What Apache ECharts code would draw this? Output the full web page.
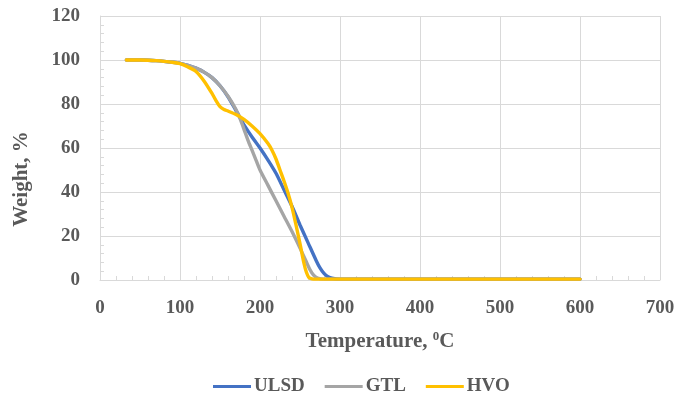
<!DOCTYPE html>
<html>
<head>
<meta charset="utf-8">
<script src="https://cdn.jsdelivr.net/npm/echarts@6/dist/echarts.min.js"></script>
<style>
  html, body { margin: 0; padding: 0; background: #fff; }
  #chart { width: 692px; height: 396px; }
</style>
</head>
<body>
<div id="chart"></div>
<script>
// Thermogravimetric curves: sample weight (%) against temperature (°C)
const ulsdTemp   = [33, 50, 60, 70, 80, 90, 100, 110, 120, 130, 140, 150, 160, 170, 175, 180, 190, 200, 210, 220, 230, 240, 250, 260, 270, 275, 280, 285, 290, 300, 400, 500, 600];
const ulsdWeight = [100, 100, 99.9, 99.7, 99.4, 99, 98.5, 97.6, 96.3, 94.5, 92, 88.3, 83.3, 77, 73.8, 70.5, 65, 60, 54.5, 48.5, 41, 33.5, 25, 17, 9, 5.5, 3, 1.5, 0.8, 0.4, 0.4, 0.4, 0.4];

const gtlTemp   = [33, 50, 60, 70, 80, 90, 100, 110, 120, 130, 140, 150, 160, 170, 175, 180, 185, 190, 195, 200, 210, 220, 230, 240, 250, 257, 262, 267, 272, 280, 300, 400, 500, 600];
const gtlWeight = [100, 100, 99.9, 99.7, 99.4, 99, 98.5, 97.6, 96.3, 94.5, 92, 88.3, 83.5, 77.5, 73.5, 68.5, 63.5, 59, 54.5, 50, 43, 36, 29, 22, 14.5, 9, 5, 2.2, 0.9, 0.4, 0.4, 0.4, 0.4, 0.4];

const hvoTemp   = [33, 50, 60, 70, 80, 90, 100, 110, 120, 130, 140, 145, 150, 155, 160, 170, 180, 190, 200, 210, 215, 220, 225, 230, 235, 240, 245, 250, 255, 258, 261, 265, 270, 300, 400, 500, 600];
const hvoWeight = [100, 100, 99.9, 99.7, 99.4, 99, 98.3, 96.8, 94.8, 90.5, 84.8, 81.5, 78.8, 77.5, 76.8, 75.2, 73, 70, 66.5, 62, 59, 55, 50, 45, 39.5, 33, 25, 16.5, 7.5, 3.5, 1.2, 0.5, 0.4, 0.4, 0.4, 0.4, 0.4];

const xTicks = [0, 100, 200, 300, 400, 500, 600, 700];
const yTicks = [0, 20, 40, 60, 80, 100, 120];

const pairs = (xs, ys) => xs.map((x, i) => [x, ys[i]]);

const FONT = '"Liberation Serif", "Times New Roman", serif';
const TXT = '#595959';
const GRID = '#D9D9D9';

const axisCommon = {
  axisLine: { show: true, lineStyle: { color: GRID, width: 1 } },
  axisTick: { show: true, inside: true, length: 4, lineStyle: { color: GRID } },
  minorTick: { show: true, splitNumber: 5, length: 4, lineStyle: { color: GRID } },
  splitLine: { show: true, lineStyle: { color: GRID, width: 1 } },
  axisLabel: { color: TXT, fontFamily: FONT, fontWeight: 'bold', fontSize: 19 }
};

function lineSeries(name, data, color) {
  return {
    name, type: 'line', data,
    smooth: 0.25,
    showSymbol: false,
    symbol: 'none',
    lineStyle: { color, width: 3.4, cap: 'round' },
    itemStyle: { color },
    emphasis: { disabled: true },
    animation: false
  };
}

const chart = echarts.init(document.getElementById('chart'), null, { renderer: 'canvas' });
chart.setOption({
  backgroundColor: '#fff',
  animation: false,
  grid: { left: 100, right: 32, top: 16, bottom: 116, containLabel: false },
  xAxis: Object.assign({}, axisCommon, {
    type: 'value', min: xTicks[0], max: xTicks[xTicks.length - 1], interval: 100,
    axisLabel: Object.assign({}, axisCommon.axisLabel, { margin: 19 })
  }),
  yAxis: Object.assign({}, axisCommon, {
    type: 'value', min: yTicks[0], max: yTicks[yTicks.length - 1], interval: 20,
    axisLabel: Object.assign({}, axisCommon.axisLabel, { margin: 20 })
  }),
  legend: {
    top: 372, left: 208,
    itemWidth: 38, itemHeight: 3, itemGap: 20,
    icon: 'rect',
    textStyle: { color: TXT, fontFamily: FONT, fontWeight: 'bold', fontSize: 19, padding: [0, 0, 0, -2] },
    data: ['ULSD', 'GTL', 'HVO']
  },
  graphic: [
    {
      type: 'text', x: 22, y: 179, rotation: Math.PI / 2,
      style: { text: 'Weight, %', fill: TXT, font: 'bold 21px ' + FONT, align: 'center', verticalAlign: 'middle' }
    },
    {
      type: 'text', x: 380, y: 342,
      style: {
        text: '{t|Temperature, }{s|0}{t|C}',
        align: 'center', verticalAlign: 'middle',
        rich: {
          t: { fill: TXT, font: 'bold 21px ' + FONT },
          s: { fill: TXT, font: 'bold 13px ' + FONT, verticalAlign: 'top', padding: [0, 0, 10, 0] }
        }
      }
    }
  ],
  series: [
    lineSeries('ULSD', pairs(ulsdTemp, ulsdWeight), '#4472C4'),
    lineSeries('GTL', pairs(gtlTemp, gtlWeight), '#A5A5A5'),
    lineSeries('HVO', pairs(hvoTemp, hvoWeight), '#FFC000')
  ]
});
</script>
</body>
</html>
